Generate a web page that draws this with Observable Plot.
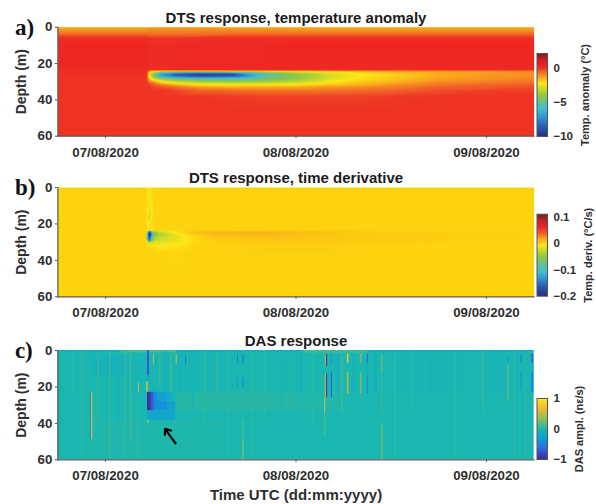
<!DOCTYPE html>
<html>
<head>
<meta charset="utf-8">
<style>
  html, body { margin: 0; padding: 0; background: #fff; }
  body { position: relative; width: 596px; height: 504px; overflow: hidden; font-family: "Liberation Sans", sans-serif; }
  .slot { position: absolute; }
  .slot svg { display: block; overflow: visible; background: transparent; }
</style>
<script src="https://cdn.jsdelivr.net/npm/d3@7"></script>
<script src="https://cdn.jsdelivr.net/npm/@observablehq/plot@0.6"></script>
</head>
<body>
<script>
// ---------- common values ----------
const timeStart = "2020-08-06T18:00Z";
const timeEnd = "2020-08-09T06:00Z";
const dayTicks = ["2020-08-07", "2020-08-08", "2020-08-09"];
const depthTicks = [0, 20, 40, 60];
const origin = Date.UTC(2020, 7, 7); // all times below are hours after 07/08/2020 00:00 UTC

// ---------- panel a: temperature anomaly (°C) ----------
const dtsHours = [-6, 5.2, 5.6, 7, 9, 12, 16, 20, 24, 28, 32, 36, 42, 48, 54];
const dtsDepths = [0, 2, 4, 6, 10, 20, 23.5, 24.2, 25, 26, 27, 28, 29, 30, 31, 32, 33, 35, 38, 45, 60];
const dtsColumns = [
  [-1.4,-1.0,-0.4,0.1,0.35,0.3,0.2, 0.15,0.1,0.08,0.05,0,0,0,0,0,0,0,0, 0,0],
  [-1.4,-1.0,-0.4,0.1,0.35,0.3,0.2, 0.15,0.1,0.08,0.05,0,0,0,0,0,0,0,0, 0,0],
  [-1.2,-0.9,-0.5,0.0,0.2,0.2,0.1, -1.6,-2.4,-2.8,-2.8,-2.2,-1.5,-0.8,-0.3,0,0,0,0, 0,0],
  [-1.2,-0.9,-0.5,0.0,0.25,0.2,0.1, -2.2,-5.5,-7,-6.5,-4.6,-3,-2.3,-1.3,-0.6,-0.2,0,0, 0,0],
  [-1.2,-0.9,-0.5,0.0,0.25,0.25,0.2, -2,-6.5,-9,-8,-5.6,-4,-3,-2.2,-1.2,-0.6,-0.1,0, 0,0],
  [-1.2,-0.9,-0.5,0.1,0.3,0.3,0.2, -2,-7,-9.8,-9,-6,-4.6,-3.6,-2.6,-1.9,-1.1,-0.4,0, 0,0],
  [-1.3,-0.9,-0.4,0.1,0.3,0.3,0.2, -1.8,-6.5,-9.5,-8.5,-5.8,-4.8,-3.8,-2.8,-2.1,-1.3,-0.5,-0.05, 0,0],
  [-1.3,-0.9,-0.4,0.1,0.3,0.3,0.2, -1.7,-4.6,-5.5,-5,-4.7,-4.4,-3.6,-2.7,-2,-1.3,-0.6,-0.1, 0,0],
  [-1.3,-1.0,-0.4,0.1,0.35,0.3,0.2, -1.6,-3.4,-4,-4.1,-4,-3.7,-3.1,-2.5,-1.9,-1.3,-0.6,-0.1, 0,0],
  [-1.3,-1.0,-0.4,0.1,0.35,0.3,0.2, -1.5,-2.5,-2.9,-2.9,-2.8,-2.6,-2.3,-2,-1.6,-1.1,-0.6,-0.1, 0,0],
  [-1.3,-1.0,-0.4,0.1,0.35,0.3,0.2, -1.4,-2.1,-2.2,-2.2,-2.1,-2,-1.8,-1.6,-1.3,-1.0,-0.5,-0.1, 0,0],
  [-1.4,-1.0,-0.4,0.1,0.35,0.3,0.2, -1.2,-1.7,-1.9,-1.9,-1.8,-1.7,-1.5,-1.3,-1.0,-0.8,-0.4,-0.05, 0,0],
  [-1.4,-1.0,-0.4,0.1,0.35,0.3,0.2, -1.1,-1.4,-1.4,-1.4,-1.3,-1.2,-1.0,-0.8,-0.6,-0.4,-0.2,0, 0,0],
  [-1.4,-1.0,-0.4,0.1,0.35,0.3,0.2, -1.0,-1.2,-1.2,-1.1,-1.1,-1.0,-0.8,-0.6,-0.4,-0.3,-0.1,0, 0,0],
  [-1.4,-1.0,-0.4,0.1,0.35,0.3,0.2, -0.9,-1.0,-1.0,-1.0,-0.9,-0.8,-0.7,-0.5,-0.3,-0.2,-0.1,0, 0,0]
];
const anomalyStops = [-10, -9, -8, -7, -6, -5, -4, -3, -2.2, -1.3, -0.3, 0, 0.5, 1.2, 2.2];
const jetColors = ["#2a2d84","#2a4fa6","#2f72c2","#2f9bd8","#3fbcd4","#62bf9c","#8fc742","#c9d92c","#ffe716","#f9a51d","#f1592a","#ef3323","#ed2024","#d0202a","#7b1c1c"];

// ---------- panel b: time derivative (°C/s) ----------
const derivHours = [-6, 5.1, 5.5, 5.8, 6.1, 6.8, 8.5, 11, 14, 20, 26, 34, 54];
const derivDepths = [0, 12, 15, 20, 23.5, 24.5, 25.5, 27, 29, 30, 32, 34, 36, 60];
const derivColumns = [
  [0,0,0,0,0,0,0,0,0,0,0,0,0,0],
  [0,0,0,0,0,0,0,0,0,0,0,0,0,0],
  [-0.008,-0.014,-0.02,-0.01,-0.014,-0.18,-0.2,-0.19,-0.15,-0.03,-0.005,0,0,0],
  [-0.003,-0.005,-0.007,-0.003,-0.006,-0.11,-0.14,-0.11,-0.07,-0.02,-0.006,0,0,0],
  [0,0,0,0,-0.002,-0.05,-0.06,-0.045,-0.03,-0.016,-0.006,0,0,0],
  [0,0,0,0,0,-0.025,-0.04,-0.03,-0.022,-0.014,-0.007,-0.002,0,0],
  [0,0,0,0,0,-0.006,-0.016,-0.016,-0.014,-0.011,-0.007,-0.003,-0.001,0],
  [0,0,0,0,0,0.009,0.004,-0.002,-0.003,-0.002,-0.001,0,0,0],
  [0,0,0,0,0,0.012,0.012,0.005,0.002,0.001,0,0,0,0],
  [0,0,0,0,0,0.014,0.014,0.008,0.005,0.003,0.002,0.001,0,0],
  [0,0,0,0,0,0.006,0.008,0.006,0.004,0.003,0.002,0.001,0,0],
  [0,0,0,0,0,0.002,0.003,0.003,0.002,0.001,0,0,0,0],
  [0,0,0,0,0,0,0,0,0,0,0,0,0,0]
];
const derivStops = [-0.2, -0.17, -0.14, -0.11, -0.08, -0.05, -0.025, -0.006, 0, 0.02, 0.04, 0.06, 0.09, 0.11];
const derivColors = ["#2a2d84","#2a4fa6","#2f86cc","#3fbcd4","#62bf9c","#8fc742","#c9d92c","#ffe716","#fdd20f","#f9a51d","#f1592a","#ee2b24","#c0202a","#7b1c1c"];

// ---------- panel c: DAS amplitude (nε/s) ----------
// each entry: first hour, last hour, top depth, bottom depth, amplitude
const dasPatches = [
  [-6,54,0,60,0],
  [-6,54,0,1,-0.12],
  [2,9,0,1.5,0.12],
  [25,33,0,1.5,0.1],
  [-1.5,10,3,14,-0.06],
  [3,16,1.5,23,-0.02],
  [36,45,2,24,-0.02],
  [47,54,2,24,-0.03],
  [9,24,23,33,0.04],
  [24,30,23,33,0.02],
  [-2,15,38,60,0.015]
];
const dasFaint = [
  [-4.2,-4,0,23,0.05],[-3,-2.8,0,60,0.06],[-1,-0.8,2,38,0.07],[0.5,0.7,0,60,0.08],
  [1.5,1.7,3,40,-0.08],[2.4,2.6,0,60,0.07],[3.1,3.3,2,50,0.1],[4,4.2,28,60,0.07],
  [6.8,7,2,20,0.1],[7.5,7.7,0,23,-0.12],[8.2,8.4,2,24,0.12],[9.3,9.5,0,24,-0.1],
  [11,11.2,2,30,-0.06],[12.5,12.7,0,40,0.06],[14,14.2,2,24,0.07],[15.4,15.6,0,60,0.05],
  [18.5,18.7,2,60,0.05],[20,20.2,0,38,0.05],[22.2,22.4,2,40,-0.04],[24.6,24.8,2,23,-0.1],
  [26,26.2,0,40,0.06],[29.2,29.4,2,24,-0.15],[29.8,30,2,35,0.1],[31.2,31.4,2,24,-0.1],
  [34,34.2,2,24,-0.15],[36.4,36.6,2,60,0.05],[38.5,38.7,0,35,0.04],[41,41.2,2,24,-0.08],
  [44,44.2,2,60,0.05],[47.5,47.7,0,35,0.06],[49.5,49.7,2,24,-0.1],[51.5,51.7,0,60,0.05],
  [52.9,53.1,2,60,0.06]
];
const dasStrong = [
  [-1.89,-1.76,23,49,-0.35],[-1.76,-1.6,23,49,0.6],
  [4.16,4.28,18,23,0.5],[5.29,5.54,0,14,-0.7],[5.29,5.54,14,17,-0.2],
  [5.16,5.4,17,23,0.45],[5.29,5.5,33,40,0.4],[6.05,6.18,2,8,0.45],[8.9,9.05,2,8,0.4],
  [10.08,10.22,3,8,-0.55],
  [16.62,16.75,2,7,-0.5],[16.62,16.75,15,20,-0.35],
  [17.3,17.45,2,7,-0.55],[17.3,17.45,15,20,-0.45],[17.3,17.45,38,50,0.15],[17.3,17.45,50,60,0.35],
  [27.7,27.83,2,9,0.65],[27.83,27.98,2,9,-0.95],[27.7,27.83,13,26,0.65],[27.83,27.98,13,26,-0.9],
  [27.6,27.75,26,35,0.45],[27.6,27.75,35,48,0.15],
  [28.46,28.59,2,8,-0.3],[28.46,28.59,12,26,-0.7],
  [30.48,30.67,2,7,0.78],[30.48,30.67,12,24,0.42],
  [32.18,32.3,2,7,0.55],[32.18,32.3,12,24,0.46],
  [33,33.13,2,7,-0.65],[33,33.13,7,15,-0.2],[33,33.13,15,24,-0.45],
  [34.82,34.95,2,12,0.32],[34.82,34.95,12,35,0.12],[34.82,34.95,40,60,0.36],
  [50.69,50.82,3,7,-0.3],[50.69,50.82,8,28,0.28],
  [52.33,52.46,2,7,-0.5],[52.33,52.46,12,22,-0.3],
  [53.71,53.9,2,7,-0.7],[53.71,53.9,12,23,-0.55]
];
const dasBlob = [
  [5.29,8.82,33,38.5,-0.22],
  [5.29,6.55,23,28,-0.36],[6.55,7.81,23,28,-0.27],[7.81,8.44,23,28,-0.16],
  [5.29,7.81,28,33,-0.38],[7.81,8.82,28,33,-0.25],
  [5.29,5.54,23,33,-1],[5.54,5.79,23,33,-0.9],[5.79,6.05,23,33,-0.7],[6.05,6.3,23,33,-0.5]
];
const parulaStops = [-1, -0.8, -0.6, -0.4, -0.2, 0, 0.2, 0.4, 0.6, 0.8, 1];
const parulaColors = ["#3b2f8f","#3a46c8","#2a72e0","#1590d8","#12a8cc","#1ab6b0","#5dbc80","#a5be50","#dcb938","#fcc62f","#f8f416"];

// ---------- texts ----------
const panelTitles = ["DTS response, temperature anomaly", "DTS response, time derivative", "DAS response"];
const panelLetters = ["a)", "b)", "c)"];
const barLabels = ["Temp. anomaly (°C)", "Temp. deriv. (°C/s)", "DAS ampl. (nε/s)"];
const depthLabel = "Depth (m)";
const timeLabel = "Time UTC (dd:mm:yyyy)";
const barTicks = [[0, -5, -10], [0.1, 0, -0.1, -0.2], [1, 0, -1]];
const barTops = [2.2, 0.112, 1];
const barBottoms = [-10, -0.2, -1];

// ---------- helpers ----------
const when = h => new Date(origin + h * 3600e3);
const INK = "#2e2e2e";
const FONT = "Liberation Sans";
const SOFT = "blur(0.6px)";
function gridSamples(hours, depths, columns) {
  return hours.flatMap((h, i) => depths.map((d, j) => ({t: when(h), d, v: columns[i][j]})));
}
function place(node, left, top) {
  const slot = document.createElement("div");
  slot.className = "slot";
  slot.style.left = left + "px";
  slot.style.top = top + "px";
  slot.appendChild(node);
  document.body.appendChild(slot);
}
function panel(i, dataMarks, colorDomain, colorRange, top, height, marginTop, marginBottom, extra = []) {
  return place(Plot.plot({
    width: 596, height, marginLeft: 57.4, marginRight: 62.4, marginTop, marginBottom,
    x: {type: "utc", domain: [new Date(timeStart), new Date(timeEnd)]},
    y: {domain: [0, 60], reverse: true},
    color: {type: "linear", domain: colorDomain, range: colorRange, clamp: true},
    style: {fontFamily: FONT, background: "transparent"},
    marks: [
      ...dataMarks,
      Plot.frame({anchor: "left", stroke: "#5a5a5a", strokeWidth: 1.2}),
      Plot.frame({anchor: "bottom", stroke: "#5a5a5a", strokeWidth: 1.2}),
      Plot.axisX({ticks: dayTicks.map(d => new Date(d)), tickFormat: d3.utcFormat("%d/%m/%Y"), tickSize: 2.5, tickPadding: 8.5,
        label: null, fontSize: 13.3, fontWeight: "bold", fill: INK, stroke: "#555"}),
      Plot.axisY({ticks: depthTicks, tickSize: 2.5, tickPadding: 3, label: null, fontSize: 13.3, fontWeight: "bold", fill: INK, stroke: "#555"}),
      Plot.text([panelTitles[i]], {frameAnchor: "top", dy: -9, lineAnchor: "middle", fontSize: 15, fontWeight: "bold", fill: "#1c1c1c"}),
      Plot.text([panelLetters[i]], {frameAnchor: "top-left", dx: -43, dy: 0, textAnchor: "start", lineAnchor: "middle",
        fontSize: 23, fontWeight: "bold", fontFamily: "Liberation Serif", fill: "#111"}),
      Plot.text([depthLabel], {frameAnchor: "left", dx: -36, rotate: -90, textAnchor: "middle", lineAnchor: "middle", fontSize: 14, fontWeight: "bold", fill: INK}),
      ...extra
    ]
  }), 0, top);
}
function colorbar(i, colorDomain, colorRange, top, barTop, barBottom, labelX) {
  const mt = barTop - top;
  const height = barBottom - top + 16;
  return place(Plot.plot({
    width: 66, height, marginLeft: 6.5, marginRight: 49, marginTop: mt, marginBottom: 16,
    x: {domain: [0, 1], axis: null},
    y: {domain: [barBottoms[i], barTops[i]]},
    color: {type: "linear", domain: colorDomain, range: colorRange, clamp: true},
    style: {fontFamily: FONT, background: "transparent"},
    marks: [
      Plot.raster({x1: 0, x2: 1, y1: barBottoms[i], y2: barTops[i], fill: (x, y) => y, pixelSize: 1}),
      Plot.frame({stroke: "#555", strokeWidth: 1}),
      Plot.axisY({anchor: "right", ticks: barTicks[i], tickSize: 0, tickPadding: 6, label: null,
        tickFormat: d => d3.format("")(d).replace("-", "\u2212"), fontSize: 11.5, fontWeight: "bold", fill: INK}),
      Plot.text([barLabels[i]], {frameAnchor: "right", dx: labelX, rotate: -90, textAnchor: "middle", lineAnchor: "middle", fontSize: 11, fontWeight: "bold", fill: INK})
    ]
  }), 530, top);
}
function rects(list) {
  return Plot.rect(list, {
    x1: r => when(r[0]), x2: r => when(r[1]), y1: r => r[2], y2: r => r[3], fill: r => r[4], imageFilter: SOFT
  });
}

// ---------- build ----------
panel(0, [
  Plot.raster(gridSamples(dtsHours, dtsDepths, dtsColumns), {x: "t", y: "d", fill: "v", interpolate: "barycentric", pixelSize: 1})
], anomalyStops, jetColors, 0, 165, 26.7, 29.3);

panel(1, [
  Plot.raster(gridSamples(derivHours, derivDepths, derivColumns), {x: "t", y: "d", fill: "v", interpolate: "barycentric", pixelSize: 1})
], derivStops, derivColors, 165, 165, 22, 33.7);

panel(2, [
    Plot.rect(dasPatches.slice(0, 1), {x1: r => when(r[0]), x2: r => when(r[1]), y1: r => r[2], y2: r => r[3], fill: r => r[4]}),
    rects(dasPatches.slice(1)), rects(dasFaint), rects(dasStrong), rects(dasBlob)
  ],
  parulaStops, parulaColors, 330, 174, 20, 44.7, [
    Plot.arrow([{x1: when(8.82), y1: 51, x2: when(7.5), y2: 43}], {
      x1: "x1", y1: "y1", x2: "x2", y2: "y2", stroke: "#000", strokeWidth: 2.2, headLength: 10, headAngle: 75, bend: 0
    }),
    Plot.text([timeLabel], {frameAnchor: "bottom", dy: 35.5, lineAnchor: "middle", fontSize: 15, fontWeight: "bold", fill: INK})
  ]);

colorbar(0, anomalyStops, jetColors, 40, 53, 136, 38);
colorbar(1, derivStops, derivColors, 200, 213.7, 295.7, 41);
colorbar(2, parulaStops, parulaColors, 385, 398, 459, 32);
</script>
</body>
</html>
